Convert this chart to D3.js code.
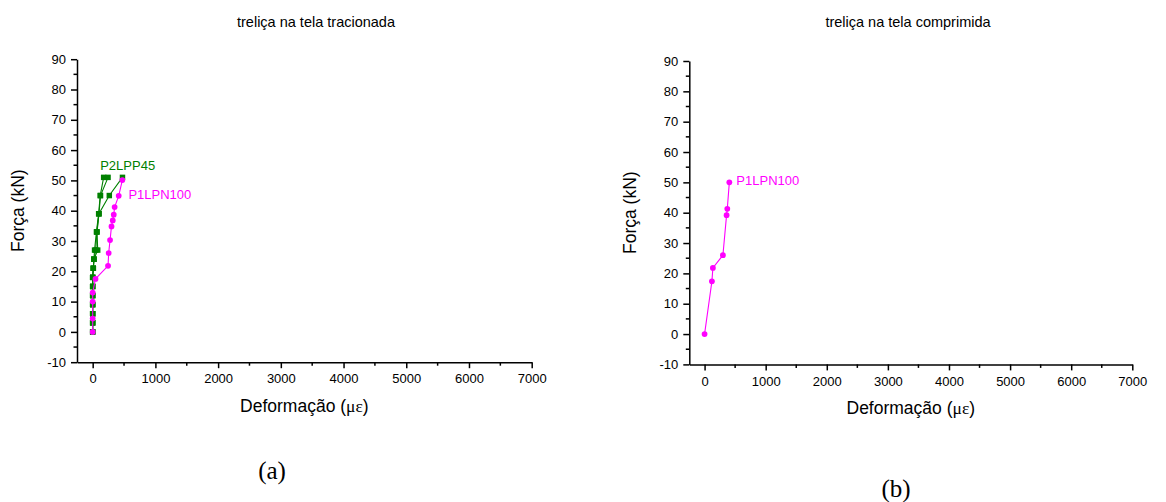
<!DOCTYPE html>
<html>
<head>
<meta charset="utf-8">
<script src="https://cdn.jsdelivr.net/npm/d3@7"></script>
<style>
  html, body { margin: 0; padding: 0; background: #fff; }
  svg { display: block; font-family: Arial, "Liberation Sans", sans-serif; }
</style>
</head>
<body>
<svg id="chart" width="1166" height="502"></svg>
<script>
// Axis ranges and ticks (shared by both panels)
const xDomain = [-250, 7000];
const yDomain = [-10, 90];
const xTickValues = [0, 1000, 2000, 3000, 4000, 5000, 6000, 7000];
const yTickValues = [-10, 0, 10, 20, 30, 40, 50, 60, 70, 80, 90];

// Panel (a): truss on the tensioned mesh
// P2LPP45 — three strain gauge readings (green squares)
const p2lpp45Force = [0, 3, 6, 9, 12, 15, 18, 21, 24, 27, 33, 39, 45, 51];
const p2lpp45StrainA = [0, 0, 0, 0, 0, 0, 0, 10, 20, 30, 60, 95, 120, 175];
const p2lpp45StrainB = [0, 0, 0, 0, 0, 0, 0, 10, 20, 50, 65, 100, 125, 245];
const p2lpp45StrainC = [0, 0, 0, 0, 0, 0, 0, 10, 20, 80, 70, 100, 265, 475];

// P1LPN100 — tensioned mesh (magenta)
const p1lpn100ForceA = [0, 4.4, 10, 13, 17.5, 21.8, 26, 30.3, 34.8, 36.8, 38.7, 41.2, 44.9, 50.1];
const p1lpn100StrainA = [0, 0, 0, 0, 45, 245, 255, 277, 300, 320, 336, 350, 415, 473];

// Panel (b): truss on the compressed mesh
const p1lpn100ForceB = [0, 17.4, 21.8, 26, 39.2, 41.3, 50];
const p1lpn100StrainB = [0, 120, 136, 300, 360, 372, 405];

const GREEN = "#008000";
const MAGENTA = "#ff00ff";
const SANS = "Arial, 'Liberation Sans', sans-serif";
const SERIF = "'Times New Roman', 'Liberation Serif', serif";

const svg = d3.select("#chart");

function zip(xs, ys) { return xs.map((x, i) => ({ x, y: ys[i] })); }

// plain integer labels with an ASCII hyphen for negatives
const tickFmt = v => String(v);

function drawPanel(cfg) {
  const x = d3.scaleLinear().domain(xDomain).range([cfg.left, cfg.right]);
  const y = d3.scaleLinear().domain(yDomain).range([cfg.bottom, cfg.top]);
  const g = svg.append("g");

  // title
  g.append("text")
    .attr("x", cfg.titleX).attr("y", cfg.titleY)
    .attr("text-anchor", "middle")
    .style("font-family", SANS).style("font-size", "14.5px")
    .attr("fill", "#000")
    .text(cfg.title);

  // minor ticks
  const xMinor = d3.range(500, 7000, 1000);
  const yMinor = d3.range(-5, 90, 10);

  const xAxis = g.append("g").attr("transform", `translate(0,${cfg.bottom})`)
    .call(d3.axisBottom(x).tickValues(xTickValues).tickFormat(tickFmt)
      .tickSize(6).tickSizeOuter(0).tickPadding(6));
  xAxis.append("g").selectAll("line").data(xMinor).join("line")
    .attr("x1", d => x(d)).attr("x2", d => x(d)).attr("y1", 0).attr("y2", 3.5)
    .attr("stroke", "#000").attr("stroke-width", 1.5);

  const yAxis = g.append("g").attr("transform", `translate(${cfg.left},0)`)
    .call(d3.axisLeft(y).tickValues(yTickValues).tickFormat(tickFmt)
      .tickSize(6).tickSizeOuter(0).tickPadding(5));
  yAxis.append("g").selectAll("line").data(yMinor).join("line")
    .attr("y1", d => y(d)).attr("y2", d => y(d)).attr("x1", 0).attr("x2", -3.5)
    .attr("stroke", "#000").attr("stroke-width", 1.5);

  [xAxis, yAxis].forEach(a => {
    a.attr("font-family", null).attr("font-size", null);
    a.select(".domain").attr("stroke", "#000").attr("stroke-width", 1.5);
    a.selectAll(".tick line").attr("stroke", "#000").attr("stroke-width", 1.5);
    a.selectAll(".tick text").attr("fill", "#000")
      .style("font-size", "13px").style("font-family", SANS);
  });

  // axis labels
  const xl = g.append("text")
    .attr("x", (cfg.left + cfg.right) / 2).attr("y", cfg.bottom + 50)
    .attr("text-anchor", "middle")
    .style("font-family", SANS).style("font-size", "17.5px").attr("fill", "#000");
  xl.append("tspan").text("Deformação (");
  xl.append("tspan").style("font-family", SERIF).text("με");
  xl.append("tspan").text(")");

  g.append("text")
    .attr("transform", `translate(${cfg.left - 53},${(cfg.top + cfg.bottom) / 2})rotate(-90)`)
    .attr("text-anchor", "middle")
    .style("font-family", SANS).style("font-size", "17.5px").attr("fill", "#000")
    .text("Força (kN)");

  // series
  const line = d3.line().x(d => x(d.x)).y(d => y(d.y));
  cfg.series.forEach(s => {
    const pts = zip(s.xs, s.ys);
    g.append("path").datum(pts)
      .attr("d", line).attr("fill", "none")
      .attr("stroke", s.color).attr("stroke-width", 1.1);
    const sym = d3.symbol().type(s.shape === "square" ? d3.symbolSquare : d3.symbolCircle)
      .size(s.shape === "square" ? 30 : 26);
    g.append("g").selectAll("path").data(pts).join("path")
      .attr("transform", d => `translate(${x(d.x)},${y(d.y)})`)
      .attr("d", sym).attr("fill", s.color);
  });

  // series labels
  cfg.labels.forEach(l => {
    g.append("text")
      .attr("x", x(l.x)).attr("y", y(l.y))
      .style("font-family", SANS).style("font-size", "13px").attr("fill", l.color)
      .text(l.text);
  });
}

drawPanel({
  left: 77, right: 531.7, top: 59.2, bottom: 362.2,
  title: "treliça na tela tracionada", titleX: 316, titleY: 27,
  series: [
    { xs: p2lpp45StrainA, ys: p2lpp45Force, color: GREEN, shape: "square" },
    { xs: p2lpp45StrainB, ys: p2lpp45Force, color: GREEN, shape: "square" },
    { xs: p2lpp45StrainC, ys: p2lpp45Force, color: GREEN, shape: "square" },
    { xs: p1lpn100StrainA, ys: p1lpn100ForceA, color: MAGENTA, shape: "circle" }
  ],
  labels: [
    { text: "P2LPP45", x: 120, y: 53.5, color: GREEN },
    { text: "P1LPN100", x: 570, y: 44, color: MAGENTA }
  ]
});

drawPanel({
  left: 689.3, right: 1132.3, top: 61, bottom: 364.4,
  title: "treliça na tela comprimida", titleX: 908, titleY: 27,
  series: [
    { xs: p1lpn100StrainB, ys: p1lpn100ForceB, color: MAGENTA, shape: "circle" }
  ],
  labels: [
    { text: "P1LPN100", x: 520, y: 49, color: MAGENTA }
  ]
});

// panel captions
svg.append("text").attr("x", 272).attr("y", 479).attr("text-anchor", "middle")
  .style("font-family", SERIF).style("font-size", "25px")
  .text("(a)");
svg.append("text").attr("x", 896).attr("y", 497).attr("text-anchor", "middle")
  .style("font-family", SERIF).style("font-size", "25px")
  .text("(b)");
</script>
</body>
</html>
